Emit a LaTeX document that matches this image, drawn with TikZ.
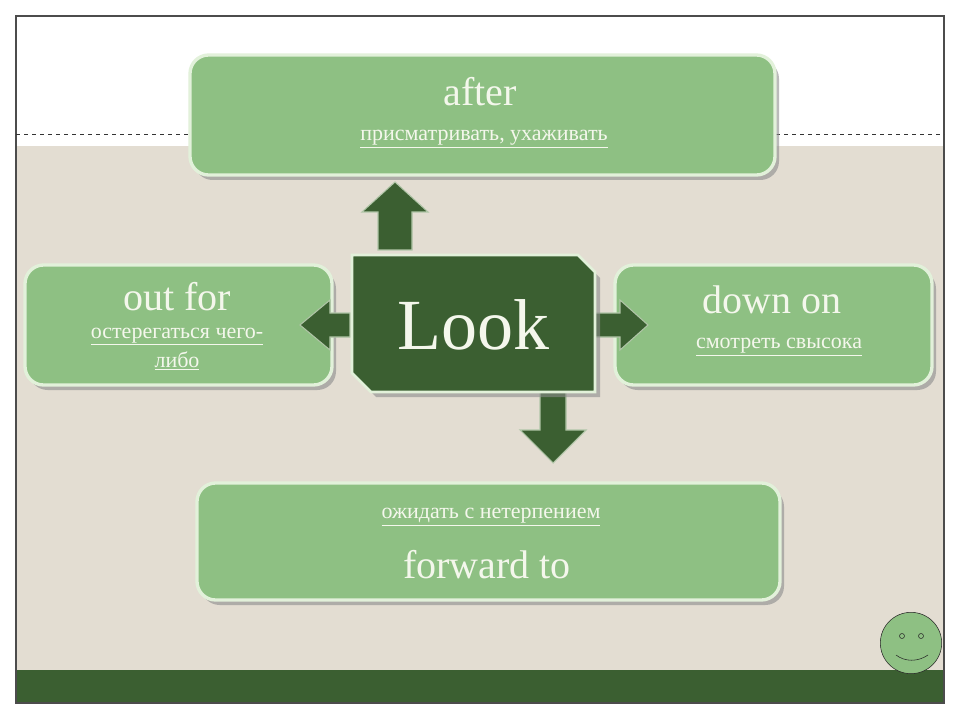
\documentclass[tikz,border=0pt]{standalone}
\usepackage{fontspec}
\setmainfont{Liberation Serif}
\usetikzlibrary{calc}
\definecolor{boxg}{HTML}{8EC083}
\definecolor{rimg}{HTML}{E2F1DA}
\definecolor{dkg}{HTML}{3B5F31}
\definecolor{beige}{HTML}{E3DDD2}
\definecolor{txt}{HTML}{F4F7EC}
\newcommand\myul[1]{\underline{#1}}
\begin{document}
\begin{tikzpicture}[x=0.75pt,y=-0.75pt,
  box/.style={draw=rimg,line width=2.5pt,fill=boxg,rounded corners=14pt},
  sh/.style={fill=black!45,rounded corners=14pt,opacity=0.6},
  arr/.style={fill=dkg,draw=rimg!70!dkg,line width=0.8pt},
  big/.style={text=txt,font=\fontsize{30}{32}\selectfont},
  small/.style={text=txt,font=\fontsize{16.5}{19}\selectfont,align=center}]
\useasboundingbox (0,0) rectangle (960,720);
\fill[white] (0,0) rectangle (960,720);
\fill[beige] (16,146) rectangle (944,670);
\fill[dkg] (16,670) rectangle (944,703);
\draw[black!70,line width=0.8pt] (16,16) rectangle (944,703);
\draw[black!80,dashed,line width=0.4pt] (16,134) -- (944,134);
% boxes
\fill[sh] (194,60) rectangle (779,180);
\path[box] (190,55) rectangle (775,175);
\fill[sh] (29,270) rectangle (336,390);
\path[box] (25,265) rectangle (332,385);
\fill[sh] (619,270) rectangle (936,390);
\path[box] (615,265) rectangle (932,385);
\fill[sh] (201,488) rectangle (784,605);
\path[box] (197,483) rectangle (780,600);
% arrows
\path[arr] (378,250) -- (378,212) -- (362,212) -- (395,182) -- (428,212) -- (412,212) -- (412,250) -- cycle;
\path[arr] (350,313) -- (330,313) -- (330,300) -- (300,325) -- (330,350) -- (330,337) -- (350,337) -- cycle;
\path[arr] (595,313) -- (620,313) -- (620,300) -- (648,325) -- (620,350) -- (620,337) -- (595,337) -- cycle;
\path[arr] (540,392) -- (540,430) -- (520,430) -- (553,463) -- (586,430) -- (566,430) -- (566,392) -- cycle;
% look
\fill[black!45,opacity=0.6] (357,261) -- (583,261) -- (600,278) -- (600,397) -- (376,397) -- (357,378) -- cycle;
\path[fill=dkg,draw=rimg,line width=2pt] (352,255) -- (578,255) -- (595,272) -- (595,392) -- (371,392) -- (352,373) -- cycle;
\node (look) at (473,325) [text=txt,font=\fontsize{54}{56}\selectfont] {Look};
% texts
\node (a1) at (480,92) [big] {after};
\node (a2) at (484,139) [small] {\myul{присматривать, ухаживать}};
\node (o1) at (177,297) [big] {out for};
\node (o2) at (177,349) [small] {\myul{остерегаться чего-}\\[3pt]\myul{либо}};
\node (d1) at (772,300) [big] {down on};
\node (d2) at (779,347) [small] {\myul{смотреть свысока}};
\node (f1) at (491,517) [small] {\myul{ожидать с нетерпением}};
\node (f2) at (487,565) [big] {forward to};
% smiley
\node (sm) at (911,643) [circle,draw=black!85,fill=boxg,minimum size=46pt,inner sep=0pt] {};
\draw[black!85] (902,636) circle (2.5) (921,636) circle (2.5);
\draw[black!85] (896,655) .. controls (905,662) and (918,662) .. (928,655);
\end{tikzpicture}
\end{document}
